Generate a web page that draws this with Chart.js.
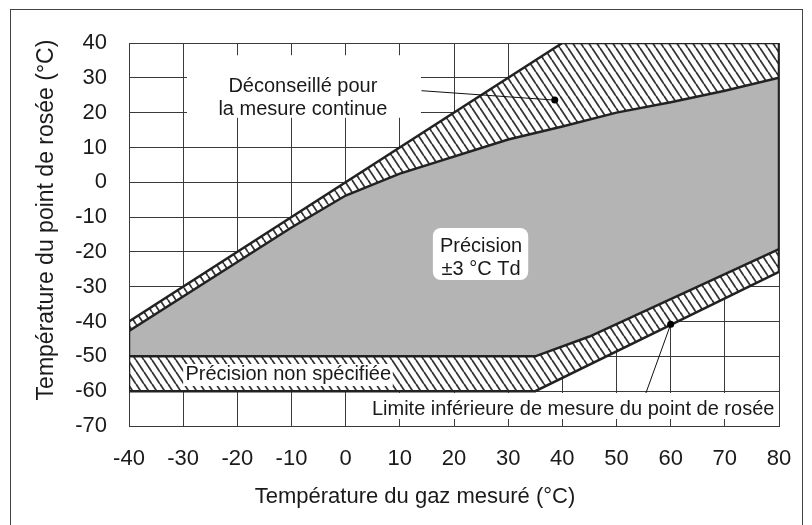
<!DOCTYPE html>
<html>
<head>
<meta charset="utf-8">
<script src="https://cdn.jsdelivr.net/npm/chart.js@4.4.1/dist/chart.umd.min.js"></script>
<style>
  body { margin: 0; background: #fff; }
</style>
</head>
<body>
<canvas id="chart" width="812" height="525"></canvas>
<script>
// limites des zones (°C)
const upperOuterX = [-40, 40, 80, 80];
const upperOuterY = [-40, 40, 40, 30];
const upperInnerX = [-40, -10, 0, 10, 30, 40, 50, 60, 70, 80];
const upperInnerY = [-42.7, -13, -3.8, 2.5, 12.3, 16, 20, 23, 26.3, 30];
const lowerInnerX = [-40, 35, 45, 80];
const lowerInnerY = [-50, -50, -44.3, -19.2];
const lowerOuterX = [-40, 35, 80];
const lowerOuterY = [-60, -60, -25.7];

// traits de rappel (début -> point)
const noteUpperX = [14, 38.6];
const noteUpperY = [26.3, 23.6];
const noteLowerX = [55.3, 60];
const noteLowerY = [-61.1, -40.8];

const xTickValues = [-40, -30, -20, -10, 0, 10, 20, 30, 40, 50, 60, 70, 80];
const yTickValues = [-70, -60, -50, -40, -30, -20, -10, 0, 10, 20, 30, 40];

const xTitle = 'Température du gaz mesuré (°C)';
const yTitle = 'Température du point de rosée (°C)';

const pts = (xs, ys) => xs.map((x, i) => ({ x: x, y: ys[i] }));

const upperBand = pts(upperOuterX, upperOuterY).concat(pts(upperInnerX, upperInnerY).reverse());
const grayZone = pts(upperInnerX, upperInnerY).concat(pts(lowerInnerX, lowerInnerY).reverse());
const lowerBand = pts(lowerInnerX, lowerInnerY).concat(pts(lowerOuterX, lowerOuterY).reverse());

// bord haut + bord droit jusqu'en bas de la bande inférieure
const outerEdge = pts(upperOuterX.slice(0, 3), upperOuterY.slice(0, 3))
  .concat([{ x: 80, y: lowerOuterY[lowerOuterY.length - 1] }]);
const leftEdge = [{ x: -40, y: upperOuterY[0] }, { x: -40, y: lowerOuterY[0] }];

// textes posés en coordonnées du graphique
const notes = [
  { box: [-29.3, 36.5, 13.9, 18.5], cx: -7.9, lines: ['Déconseillé pour', 'la mesure continue'], base: [25.8, 19.3] },
  { box: [16.1, -13.1, 33.7, -28.1], round: 8, cx: 25, lines: ['Précision', '±3 °C Td'], base: [-19.9, -26.6] },
  { box: [-30, -52.2, 8.7, -58.5], cx: -10.6, lines: ['Précision non spécifiée'], base: [-56.8] },
  { box: [4.1, -60.5, 79.4, -68], cx: 42, lines: ['Limite inférieure de mesure du point de rosée'], base: [-66.8] },
];

function makeHatch() {
  const c = document.createElement('canvas');
  c.width = 8; c.height = 12;
  const g = c.getContext('2d');
  g.fillStyle = '#fff';
  g.fillRect(0, 0, 8, 12);
  g.strokeStyle = '#333';
  g.lineWidth = 1.8;
  [-8, 0, 8].forEach(o => {
    g.beginPath();
    g.moveTo(o, 0);
    g.lineTo(o + 8, 12);
    g.stroke();
  });
  return g.createPattern(c, 'repeat');
}
const hatch = makeHatch();

const FONT = "'Liberation Sans', Arial, sans-serif";

const notesPlugin = {
  id: 'notes',
  beforeDraw(chart) {
    const ctx = chart.ctx;
    ctx.save();
    ctx.strokeStyle = '#444';
    ctx.lineWidth = 1;
    ctx.strokeRect(10.5, 9.5, 792, 530);
    ctx.restore();
  },
  afterDraw(chart) {
    const { ctx, scales: { x, y } } = chart;
    ctx.save();
    notes.forEach(n => {
      const x0 = x.getPixelForValue(n.box[0]), y0 = y.getPixelForValue(n.box[1]);
      const x1 = x.getPixelForValue(n.box[2]), y1 = y.getPixelForValue(n.box[3]);
      ctx.fillStyle = '#fff';
      ctx.beginPath();
      if (n.round) ctx.roundRect(x0, y0, x1 - x0, y1 - y0, n.round);
      else ctx.rect(x0, y0, x1 - x0, y1 - y0);
      ctx.fill();
      ctx.fillStyle = '#1a1a1a';
      ctx.font = '20px ' + FONT;
      ctx.textAlign = 'center';
      ctx.textBaseline = 'alphabetic';
      n.lines.forEach((t, i) => {
        ctx.fillText(t, x.getPixelForValue(n.cx), y.getPixelForValue(n.base[i]));
      });
    });

    ctx.fillStyle = '#1a1a1a';
    ctx.font = '22px ' + FONT;
    ctx.textAlign = 'center';
    ctx.textBaseline = 'alphabetic';
    ctx.fillText(xTitle, 415, 503);

    ctx.translate(53, 220);
    ctx.rotate(-Math.PI / 2);
    ctx.font = '23px ' + FONT;
    ctx.fillText(yTitle, 0, 0);
    ctx.restore();
  }
};

const fillSet = (data, color) => ({
  data: data, showLine: true, fill: 'shape', backgroundColor: color,
  borderWidth: 0, pointRadius: 0, tension: 0, order: 10
});
const edgeSet = (data) => ({
  data: data, showLine: true, fill: false, borderColor: '#222',
  borderWidth: 2.5, pointRadius: 0, tension: 0, order: 2
});
const noteSet = (data) => ({
  data: data, showLine: true, fill: false, borderColor: '#111', borderWidth: 1,
  pointRadius: [0, 3.5], pointBackgroundColor: '#000', pointBorderWidth: 0, order: 1
});

new Chart(document.getElementById('chart'), {
  type: 'scatter',
  data: {
    datasets: [
      fillSet(grayZone, '#b4b4b4'),
      fillSet(upperBand, hatch),
      fillSet(lowerBand, hatch),
      edgeSet(outerEdge),
      edgeSet(pts(upperInnerX, upperInnerY)),
      edgeSet(pts(lowerInnerX, lowerInnerY)),
      edgeSet(pts(lowerOuterX, lowerOuterY)),
      edgeSet(leftEdge),
      noteSet(pts(noteUpperX, noteUpperY)),
      noteSet(pts(noteLowerX, noteLowerY)),
    ]
  },
  options: {
    responsive: false,
    animation: false,
    devicePixelRatio: 1,
    layout: { padding: { top: 43, right: 33, left: 0, bottom: 0 } },
    plugins: { legend: { display: false }, tooltip: { enabled: false } },
    scales: {
      x: {
        type: 'linear', min: -40, max: 80, z: 1,
        afterBuildTicks: s => { s.ticks = xTickValues.map(v => ({ value: v })); },
        afterFit: s => { s.height = 99; },
        ticks: { font: { size: 22, family: FONT }, color: '#1a1a1a', padding: 20, maxRotation: 0 },
        grid: { color: '#3a3a3a', lineWidth: 1, drawTicks: false },
        border: { color: '#3a3a3a', width: 1 }
      },
      y: {
        type: 'linear', min: -70, max: 40, z: 1,
        afterBuildTicks: s => { s.ticks = yTickValues.map(v => ({ value: v })); },
        afterFit: s => { s.width = 129; },
        ticks: { font: { size: 22, family: FONT }, color: '#1a1a1a', padding: 22 },
        grid: { color: '#3a3a3a', lineWidth: 1, drawTicks: false },
        border: { color: '#3a3a3a', width: 1 }
      }
    }
  },
  plugins: [notesPlugin]
});
</script>
</body>
</html>
